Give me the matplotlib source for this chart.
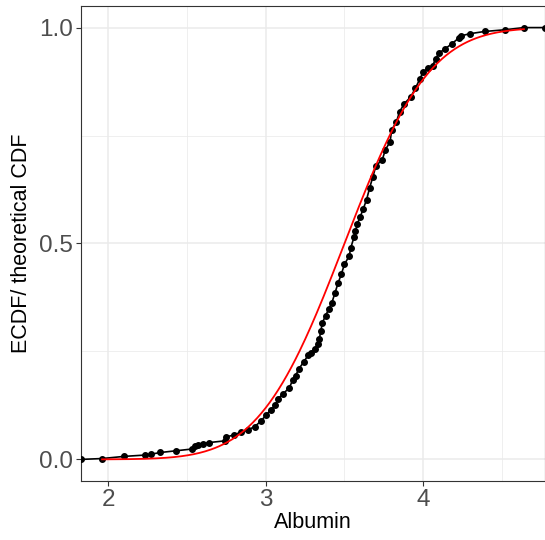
import math
import numpy as np
import matplotlib
matplotlib.use("Agg")
import matplotlib.pyplot as plt
from matplotlib.ticker import MultipleLocator, FormatStrFormatter

plt.rcParams["font.family"] = ["Liberation Sans", "DejaVu Sans"]

# ECDF of albumin (sample value, cumulative proportion)
albumin = [1.96, 2.10, 2.23, 2.27, 2.33, 2.43, 2.53, 2.55, 2.57, 2.60, 2.64, 2.74,
           2.75, 2.80, 2.84, 2.89, 2.93, 2.97, 3.00, 3.03, 3.06, 3.08, 3.11, 3.15,
           3.17, 3.19, 3.21, 3.24, 3.27, 3.29, 3.31, 3.33, 3.34, 3.35, 3.36, 3.38,
           3.40, 3.42, 3.44, 3.46, 3.48, 3.50, 3.53, 3.54, 3.56, 3.57, 3.58, 3.60,
           3.62, 3.64, 3.66, 3.68, 3.70, 3.74, 3.76, 3.79, 3.80, 3.83, 3.85, 3.88,
           3.92, 3.95, 3.98, 4.00, 4.03, 4.06, 4.08, 4.10, 4.14, 4.18, 4.23, 4.24,
           4.30, 4.39, 4.52, 4.64]
ecdf = [0.002, 0.007, 0.010, 0.012, 0.016, 0.020, 0.024, 0.031, 0.033, 0.036, 0.039, 0.043,
        0.052, 0.057, 0.063, 0.069, 0.076, 0.089, 0.102, 0.114, 0.125, 0.141, 0.152, 0.166,
        0.183, 0.194, 0.210, 0.225, 0.242, 0.247, 0.256, 0.267, 0.279, 0.298, 0.317, 0.333,
        0.348, 0.363, 0.386, 0.409, 0.429, 0.452, 0.471, 0.490, 0.514, 0.528, 0.544, 0.562,
        0.581, 0.601, 0.629, 0.654, 0.680, 0.694, 0.717, 0.736, 0.763, 0.782, 0.805, 0.824,
        0.839, 0.859, 0.882, 0.897, 0.906, 0.912, 0.928, 0.941, 0.951, 0.962, 0.977, 0.981,
        0.986, 0.991, 0.995, 1.000]

# fitted normal (theoretical CDF)
mu, sigma = 3.50, 0.425

xs = np.array(albumin)
ys = np.array(ecdf)
span = xs.max() - xs.min()
xlo, xhi = xs.min() - 0.05 * span, xs.max() + 0.05 * span

fig = plt.figure(figsize=(5.45, 5.40), dpi=100)
ax = fig.add_axes([81 / 545, 59 / 540, 464 / 545, 475 / 540])

# padded ecdf: from left edge at 0 to right edge at 1
px = np.r_[xlo, xs, xhi]
py = np.r_[0.0, ys, 1.0]
ax.plot(px, py, color="black", lw=1.2, zorder=3)
ax.plot(px, py, "o", color="black", ms=4.0, zorder=4)

grid = np.linspace(xs.min(), xs.max(), 300)
cdf = 0.5 * (1 + np.array([math.erf((g - mu) / (sigma * math.sqrt(2))) for g in grid]))
ax.plot(grid, cdf, color="red", lw=1.3, zorder=5)

ax.set_xlim(xlo, xhi)
ax.set_ylim(-0.05, 1.05)
ax.xaxis.set_major_locator(MultipleLocator(1))
ax.xaxis.set_minor_locator(MultipleLocator(0.5))
ax.yaxis.set_major_locator(MultipleLocator(0.5))
ax.yaxis.set_minor_locator(MultipleLocator(0.25))
ax.yaxis.set_major_formatter(FormatStrFormatter("%.1f"))
ax.grid(which="major", color="#EBEBEB", lw=1.1, zorder=0)
ax.grid(which="minor", color="#EBEBEB", lw=0.55, zorder=0)
ax.set_axisbelow(True)
ax.tick_params(which="major", length=3.5, width=0.8, color="#333333",
               labelsize=17.5, labelcolor="#4D4D4D", pad=2)
ax.tick_params(which="minor", length=0)
for sp in ax.spines.values():
    sp.set_color("#333333")
    sp.set_linewidth(0.8)

ax.set_xlabel("Albumin", fontsize=15.5, color="black", labelpad=1)
ax.set_ylabel("ECDF/ theoretical CDF", fontsize=15.5, color="black", labelpad=5)

fig.savefig("out.png", dpi=100, facecolor="white")
